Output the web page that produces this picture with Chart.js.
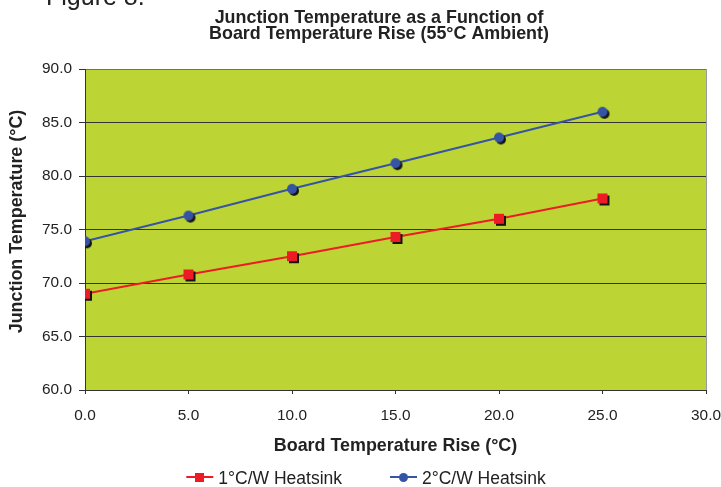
<!DOCTYPE html>
<html>
<head>
<meta charset="utf-8">
<script src="https://cdn.jsdelivr.net/npm/chart.js@4/dist/chart.umd.min.js"></script>
<style>
  html, body { margin: 0; padding: 0; background: #fff; }
  #wrap { width: 721px; height: 487px; }
</style>
</head>
<body>
<div id="wrap"><canvas id="c" width="721" height="487"></canvas></div>
<script>
// Board temperature rise (°C) and resulting junction temperature (°C)
const boardRise = [0, 5, 10, 15, 20, 25];
const heatsink1 = [69.0, 70.8, 72.5, 74.3, 76.0, 77.9];
const heatsink2 = [73.9, 76.3, 78.8, 81.2, 83.6, 86.0];
const seriesNames = ['1°C/W Heatsink', '2°C/W Heatsink'];
const xTicks = [0, 5, 10, 15, 20, 25, 30];
const yTicks = [60, 65, 70, 75, 80, 85, 90];
const figureLabel = 'Figure 8.';
const headline = ['Junction Temperature as a Function of', 'Board Temperature Rise (55°C Ambient)'];
const xTitle = 'Board Temperature Rise (°C)';
const yTitle = 'Junction Temperature (°C)';

const FONT = '"Liberation Sans", Arial, Helvetica, sans-serif';
const BOLD_SIZE = 17.9;
const TEXT = '#222222';
const PLOT_BG = '#bcd534';
const RED = '#ed1c24';
const BLUE = '#3654a6';

// Marker sprite: coloured square/circle, optionally with a dark drop shadow
function markerSprite(shape, color, size, shadow) {
  const off = shadow ? 2 : 0;
  const dim = Math.ceil(size + 2 * off) + 2;
  const cv = document.createElement('canvas');
  cv.width = dim; cv.height = dim;
  const g = cv.getContext('2d');
  const c = dim / 2;
  const paint = (cx, cy, fill) => {
    g.fillStyle = fill;
    if (shape === 'rect') {
      g.fillRect(cx - size / 2, cy - size / 2, size, size);
    } else {
      g.beginPath(); g.arc(cx, cy, size / 2, 0, Math.PI * 2); g.fill();
    }
  };
  if (shadow) paint(c + off, c + off, '#151515');
  paint(c, c, color);
  return cv;
}

function toPoints(xs, ys) { return xs.map((x, i) => ({ x: x, y: ys[i] })); }

const decor = {
  id: 'decor',
  beforeDraw(chart) {
    const { ctx, chartArea: a } = chart;
    ctx.save();
    ctx.fillStyle = '#ffffff';
    ctx.fillRect(0, 0, chart.width, chart.height);
    ctx.fillStyle = PLOT_BG;
    ctx.fillRect(a.left, a.top, a.right - a.left, a.bottom - a.top);
    ctx.restore();
  },
  afterDraw(chart) {
    const { ctx } = chart;
    ctx.save();
    ctx.fillStyle = TEXT;

    // figure caption, partly above the page edge
    ctx.font = '25px ' + FONT;
    ctx.textAlign = 'left';
    ctx.textBaseline = 'alphabetic';
    ctx.fillText(figureLabel, 46, 5);

    // two-line headline
    ctx.font = 'bold ' + BOLD_SIZE + 'px ' + FONT;
    ctx.textAlign = 'center';
    ctx.fillText(headline[0], 379, 22.7);
    ctx.fillText(headline[1], 379, 39.3);

    // vertical axis title
    ctx.save();
    ctx.translate(22, 221.5);
    ctx.rotate(-Math.PI / 2);
    ctx.textAlign = 'center';
    ctx.fillText(yTitle, 0, 0);
    ctx.restore();

    // legend: line sample with marker, then the series name
    ctx.font = '17.5px ' + FONT;
    ctx.textAlign = 'left';
    const lineLen = 27, gap = 5, itemGap = 48;
    const items = chart.data.datasets.map(ds => ({ ds, w: lineLen + gap + ctx.measureText(ds.label).width }));
    const total = items.reduce((s, it) => s + it.w, 0) + itemGap * (items.length - 1);
    let x = 366 - total / 2;
    const cy = 477;
    items.forEach(it => {
      ctx.strokeStyle = it.ds.borderColor;
      ctx.lineWidth = 2;
      ctx.beginPath(); ctx.moveTo(x, cy); ctx.lineTo(x + lineLen, cy); ctx.stroke();
      const m = it.ds.legendMarker;
      ctx.drawImage(m, Math.round(x + lineLen / 2 - m.width / 2), Math.round(cy - m.height / 2));
      ctx.fillStyle = TEXT;
      ctx.fillText(it.ds.label, x + lineLen + gap, 483.5);
      x += it.w + itemGap;
    });
    ctx.restore();
  }
};

new Chart(document.getElementById('c'), {
  type: 'scatter',
  data: {
    datasets: [
      {
        label: seriesNames[0],
        data: toPoints(boardRise, heatsink1),
        showLine: true,
        borderColor: RED,
        backgroundColor: RED,
        borderWidth: 2,
        tension: 0,
        pointStyle: markerSprite('rect', RED, 10, true),
        legendMarker: markerSprite('rect', RED, 9, false),
        pointRadius: 8,
        pointHoverRadius: 8
      },
      {
        label: seriesNames[1],
        data: toPoints(boardRise, heatsink2),
        showLine: true,
        borderColor: BLUE,
        backgroundColor: BLUE,
        borderWidth: 2,
        tension: 0,
        pointStyle: markerSprite('circle', BLUE, 10, true),
        legendMarker: markerSprite('circle', BLUE, 9, false),
        pointRadius: 8,
        pointHoverRadius: 8
      }
    ]
  },
  options: {
    responsive: false,
    animation: false,
    devicePixelRatio: 1,
    layout: { padding: { top: 69, right: 15, bottom: 0, left: 0 } },
    plugins: {
      legend: { display: false },
      title: { display: false },
      tooltip: { enabled: false }
    },
    scales: {
      x: {
        type: 'linear',
        min: 0, max: 30,
        afterBuildTicks: s => { s.ticks = xTicks.map(v => ({ value: v })); },
        afterFit: s => { s.height = 97; s.paddingLeft = 0; s.paddingRight = 0; },
        ticks: {
          color: TEXT,
          font: { family: FONT, size: 15.4 },
          padding: 13,
          maxRotation: 0,
          callback: v => Number(v).toFixed(1)
        },
        grid: {
          drawOnChartArea: true,
          drawTicks: true,
          tickLength: 4,
          lineWidth: 1,
          color: c => (c.tick && c.tick.value === 30) ? '#9a9a9a' : 'rgba(0,0,0,0)',
          tickColor: '#333333'
        },
        border: { display: true, color: '#333333', width: 1 },
        title: {
          display: true,
          text: xTitle,
          color: TEXT,
          font: { family: FONT, size: BOLD_SIZE, weight: 'bold' },
          padding: { top: 0, bottom: 30 }
        }
      },
      y: {
        type: 'linear',
        min: 60, max: 90,
        afterBuildTicks: s => { s.ticks = yTicks.map(v => ({ value: v })); },
        afterFit: s => { s.width = 85; s.paddingTop = 0; s.paddingBottom = 0; },
        ticks: {
          color: TEXT,
          font: { family: FONT, size: 15.4 },
          padding: 7,
          callback: v => Number(v).toFixed(1)
        },
        grid: {
          drawTicks: true,
          tickLength: 6,
          lineWidth: 1,
          color: c => (c.tick && c.tick.value === 90) ? '#707070' : '#333333',
          tickColor: '#333333'
        },
        border: { display: true, color: '#333333', width: 1 }
      }
    }
  },
  plugins: [decor]
});
</script>
</body>
</html>
